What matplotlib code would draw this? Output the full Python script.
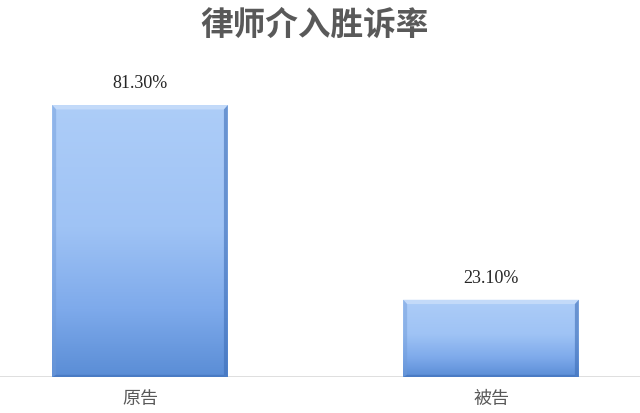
import numpy as np
import matplotlib
matplotlib.use("Agg")
import matplotlib.pyplot as plt
from matplotlib.patches import Rectangle, Polygon
from matplotlib.colors import LinearSegmentedColormap

plt.rcParams["font.family"] = ["Noto Sans CJK SC", "DejaVu Sans"]

categories = ["原告", "被告"]
values = [81.3, 23.1]
value_labels = ["81.30%", "23.10%"]
title = "律师介入胜诉率"

BAR_W = 0.5
GRAY = "#595959"

# light at the top, darker toward the base (Excel-like gradient)
cmap = LinearSegmentedColormap.from_list(
    "bar", [(0.0, "#5a8dd6"), (0.25, "#7eaaeb"), (0.55, "#9fc3f5"), (1.0, "#adcdf8")])

fig = plt.figure(figsize=(6.4, 4.14), dpi=100)
ax = fig.add_axes([0, 0.087, 1, 0.727])
ax.set_xlim(-0.399, 1.4245)
ax.set_ylim(0, 90)

grad = np.linspace(0, 1, 256).reshape(-1, 1)
for i, v in enumerate(values):
    x0, x1 = i - BAR_W / 2, i + BAR_W / 2
    rect = Rectangle((x0, 0), BAR_W, v, facecolor="none", edgecolor="none")
    ax.add_patch(rect)
    im = ax.imshow(grad, cmap=cmap, extent=(x0, x1, 0, v), origin="lower",
                   aspect="auto", zorder=2)
    im.set_clip_path(rect)
    # soft bevel edges
    bx = 0.011
    by = 1.3
    ax.add_patch(Polygon([(x0, v), (x1, v), (x1 - bx, v - by), (x0 + bx, v - by)],
                         closed=True, facecolor="#c6dcfa", edgecolor="none",
                         alpha=0.9, zorder=3))
    ax.add_patch(Polygon([(x0, 0), (x0, v), (x0 + bx, v - by), (x0 + bx, by * 0.5)],
                         closed=True, facecolor="#6f9ad8", edgecolor="none",
                         alpha=0.45, zorder=3))
    ax.add_patch(Polygon([(x1, 0), (x1, v), (x1 - bx, v - by), (x1 - bx, by * 0.5)],
                         closed=True, facecolor="#3f6fb8", edgecolor="none",
                         alpha=0.6, zorder=3))
    ax.add_patch(Polygon([(x0, 0), (x1, 0), (x1 - bx, by * 0.5), (x0 + bx, by * 0.5)],
                         closed=True, facecolor="#3f6fb8", edgecolor="none",
                         alpha=0.6, zorder=3))
    ax.annotate(value_labels[i], (i, v), xytext=(0, 10), textcoords="offset points",
                ha="center", va="bottom", fontsize=13, color="#262626",
                family="Liberation Serif")

ax.axhline(0, color="#d9d9d9", lw=1.2, zorder=1)
for s in ax.spines.values():
    s.set_visible(False)
ax.set_yticks([])
ax.set_xticks(range(len(categories)))
ax.set_xticklabels(categories, fontsize=13, color=GRAY)
ax.tick_params(axis="x", length=0, pad=9)

fig.text(0.492, 0.938, title, ha="center", va="center", fontsize=23.5,
         fontweight="bold", color=GRAY)

fig.savefig("out.png", dpi=100)
